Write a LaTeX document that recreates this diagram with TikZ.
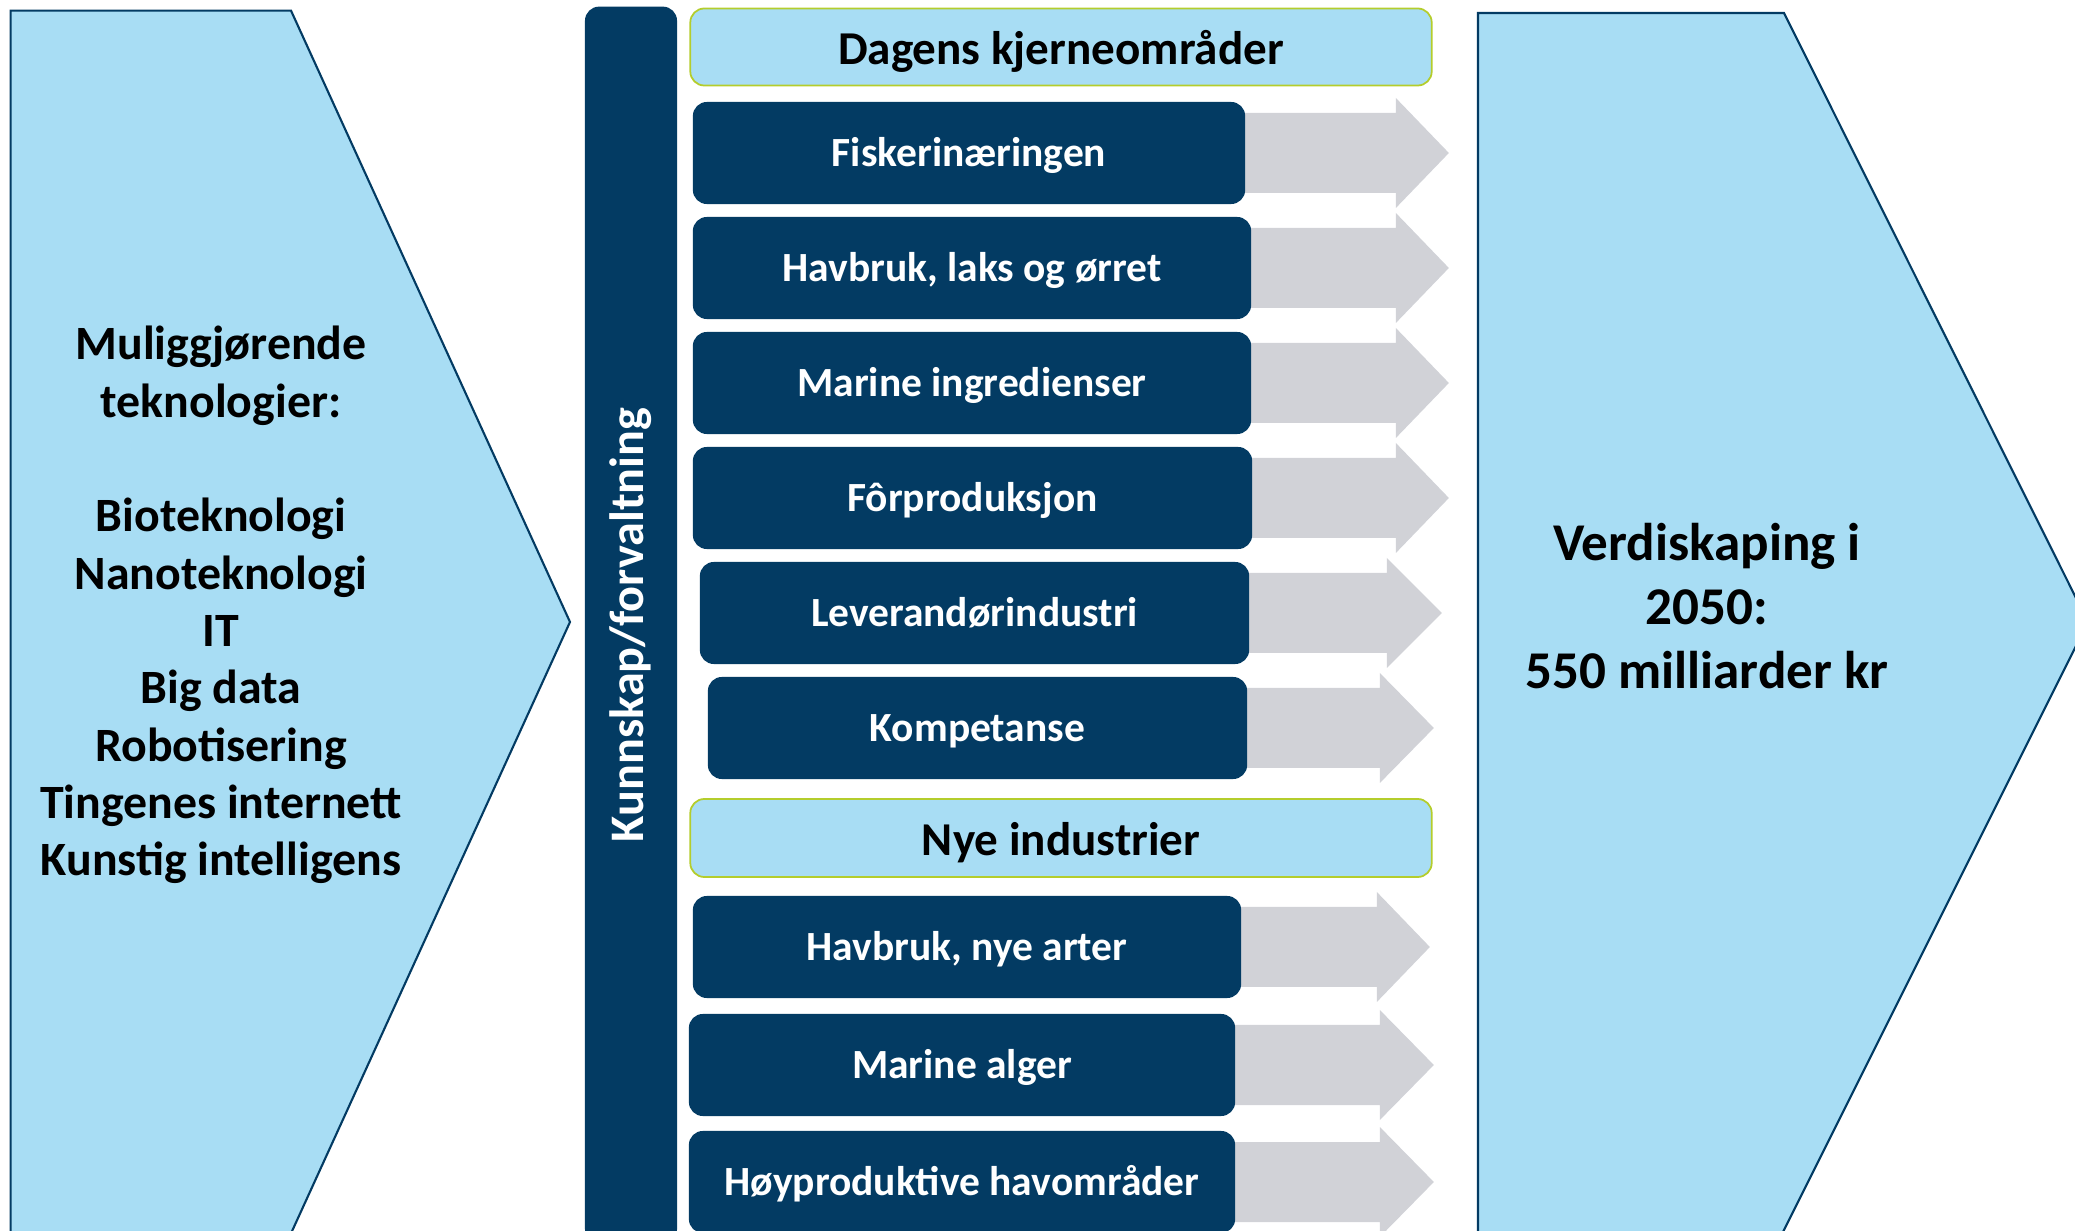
\documentclass[tikz,border=0pt]{standalone}
\usepackage{fontspec}
\setmainfont{Carlito}
\usepackage{xcolor}
\usepackage{tikz}
\usetikzlibrary{
	backgrounds,
	positioning
}

\definecolor{navy}{HTML}{033B63}
\definecolor{skyblue}{HTML}{A8DDF4}
\definecolor{limeline}{HTML}{B4CD2C}
\definecolor{arrowgrey}{HTML}{D1D2D7}

\begin{document}
\begin{tikzpicture}[x=0.01cm,y=-0.01cm,
		chevron/.style={fill=skyblue,draw=navy,line width=0.6pt},
		sector/.style={fill=navy,rounded corners=4pt,text=white,
			font=\fontsize{11.8}{14}\selectfont\bfseries,
			text height=7.9pt,text depth=0pt,
			minimum height=1.02cm,inner sep=0pt},
		heading/.style={fill=skyblue,draw=limeline,line width=0.5pt,rounded corners=4pt,
			font=\fontsize{13.4}{16}\selectfont\bfseries,
			text height=9.8pt,text depth=0pt,
			minimum width=7.41cm,minimum height=0.77cm,inner sep=0pt},
		blockarrow/.style={fill=arrowgrey}]
		\useasboundingbox (0,0) rectangle (2075,1231);
		\clip (0,0) rectangle (2075,1231);

		\draw[chevron] (10.6,10.6) -- (291,10.6) -- (570,622) -- (288,1240) -- (10.6,1240) -- cycle;
		\draw[chevron] (1478,13) -- (1784,13) -- (2088,622) -- (1779,1240) -- (1478,1240) -- cycle;

		\node[align=center,font=\fontsize{13.6}{16.3}\selectfont\bfseries] (tech) at (221,605)
			{Muliggjørende\\teknologier:\\[16.3pt]Bioteknologi\\Nanoteknologi\\IT\\Big data\\Robotisering\\Tingenes internett\\Kunstig intelligens};
		\node[align=center,font=\fontsize{15.1}{18.2}\selectfont\bfseries] (verdi) at (1707,606)
			{Verdiskaping i\\2050:\\550 milliarder kr};

		\node[fill=navy,rounded corners=4pt,rotate=90,text=white,inner sep=0pt,
			minimum width=12.36cm,minimum height=0.92cm,
			font=\fontsize{13.7}{16}\selectfont\bfseries] (kunnskap) at (631,625) {Kunnskap/forvaltning};

		\node[heading] (dagens) at (1061,47) {Dagens kjerneområder};
		\node[heading,minimum height=0.78cm] (nye) at (1061,838) {Nye industrier};

		\node[sector,minimum width=5.52cm] (fiske) at (969,153) {Fiskerinæringen};
		\node[sector,minimum width=5.58cm] (laks) at (972,268) {Havbruk, laks og ørret};
		\node[sector,minimum width=5.58cm] (ingred) at (972,383) {Marine ingredienser};
		\node[sector,minimum width=5.59cm] (for) at (972.5,498) {Fôrproduksjon};
		\node[sector,minimum width=5.49cm] (leverandor) at (974.5,613) {Leverandørindustri};
		\node[sector,minimum width=5.39cm] (kompetanse) at (977.5,728) {Kompetanse};
		\node[sector,minimum width=5.48cm] (nyearter) at (967,947) {Havbruk, nye arter};
		\node[sector,minimum width=5.46cm] (alger) at (962,1065) {Marine alger};
		\node[sector,minimum width=5.46cm] (havomr) at (962,1182) {Høyproduktive havområder};

		\begin{scope}[on background layer]
			\foreach \b/\j/\t in {fiske/150/203,laks/144/197,ingred/144/197,for/143/196,
					leverandor/137/192,kompetanse/132/186,nyearter/135/188,alger/144/198,havomr/144/198}
				\fill[blockarrow,shift={(\b.east)}] (-10,-40) -- (\j,-40) -- (\j,-55) -- (\t,0)
					-- (\j,55) -- (\j,40) -- (-10,40) -- cycle;
		\end{scope}
	\end{tikzpicture}
\end{document}
